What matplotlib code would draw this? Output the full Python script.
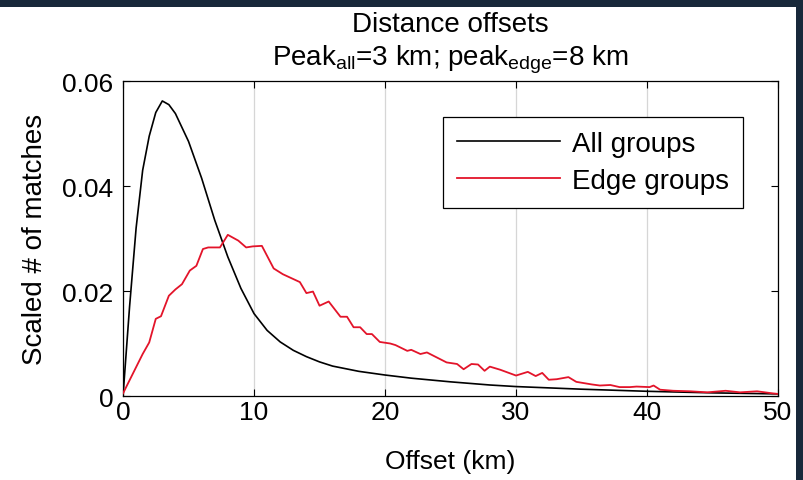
import matplotlib

matplotlib.use('Agg')
import matplotlib.pyplot as plt
from matplotlib.patches import Rectangle
from matplotlib.ticker import FuncFormatter

# Helvetica-like font
plt.rcParams['font.family'] = ['Liberation Sans', 'DejaVu Sans']
plt.rcParams['mathtext.fontset'] = 'custom'
plt.rcParams['mathtext.rm'] = 'Liberation Sans'
plt.rcParams['mathtext.it'] = 'Liberation Sans'

# All groups (smooth curve), km -> scaled matches
all_x = [0, 0.5, 1, 1.5, 2, 2.5, 3, 3.5, 4, 5, 6, 7, 8, 9, 10, 11, 12, 13, 14,
         15, 16, 18, 20, 22, 25, 28, 30, 35, 40, 45, 50]
all_y = [0.0, 0.017, 0.032, 0.043, 0.0495, 0.054, 0.0562, 0.0555, 0.0538,
         0.0485, 0.0415, 0.0335, 0.0265, 0.0205, 0.0157, 0.0125, 0.0103,
         0.0087, 0.0075, 0.0065, 0.0057, 0.0047, 0.0040, 0.0034, 0.0027,
         0.0021, 0.0018, 0.0013, 0.0009, 0.0006, 0.0004]

# Edge groups (jagged), read point by point
edge_x = [0, 0.5, 1.0, 1.5, 2.0, 2.5, 2.9, 3.5, 4.0, 4.5, 5.1, 5.6, 6.1, 6.5,
          7.4, 8.0, 8.8, 9.4, 9.9, 10.6, 11.5, 12.2, 13.5, 14.0, 14.5, 15.0,
          15.7, 16.6, 17.1, 17.6, 18.1, 18.6, 19.0, 19.6, 20.4, 20.8, 21.7,
          22.0, 22.7, 23.2, 24.7, 25.5, 26.0, 26.6, 27.1, 27.6, 28.0, 28.8,
          30.0, 30.9, 31.5, 32.0, 32.5, 33.1, 34.0, 34.6, 35.8, 36.4, 37.2,
          37.9, 38.7, 39.2, 40.2, 40.5, 41.0, 42.0, 43.3, 44.6, 46.0, 47.1,
          48.4, 49.6, 50]
edge_y = [0.0005, 0.003, 0.0055, 0.008, 0.0102, 0.0147, 0.0152, 0.0191,
          0.0203, 0.0213, 0.0239, 0.0248, 0.028, 0.0283, 0.0283, 0.0307,
          0.0296, 0.0283, 0.0285, 0.0286, 0.0243, 0.0232, 0.0217, 0.0196,
          0.0199, 0.0172, 0.018, 0.0151, 0.0151, 0.0131, 0.0131, 0.0118,
          0.0118, 0.0103, 0.0100, 0.0097, 0.0086, 0.0088, 0.008, 0.0083,
          0.0064, 0.0061, 0.0051, 0.0061, 0.006, 0.0048, 0.0056, 0.005,
          0.0039, 0.0046, 0.0038, 0.0044, 0.0031, 0.0032, 0.0036, 0.0027,
          0.0022, 0.002, 0.0021, 0.0017, 0.0017, 0.0018, 0.0017, 0.002,
          0.0012, 0.001, 0.0009, 0.0007, 0.001, 0.0007, 0.0009, 0.0005,
          0.0004]

x_ticks = [0, 10, 20, 30, 40, 50]
y_ticks = [0, 0.02, 0.04, 0.06]

fig = plt.figure(figsize=(8.04, 4.81), dpi=100)
fig.patch.set_facecolor('#18283a')
# white panel inside the dark frame (behind the axes)
fig.patches.append(Rectangle((0, 0), 796 / 804, 473 / 481, transform=fig.transFigure,
                             facecolor='white', edgecolor='none', zorder=-10))

ax = fig.add_axes([0.153, 0.1746, 0.8147, 0.6549])
ax.plot(all_x, all_y, color='black', lw=1.2, label='All groups', zorder=3)
ax.plot(edge_x, edge_y, color='#e3142a', lw=1.3, label='Edge groups', zorder=3)

ax.set_xlim(0, 50)
ax.set_ylim(0, 0.06)
ax.set_xticks(x_ticks)
ax.set_yticks(y_ticks)
ax.yaxis.set_major_formatter(FuncFormatter(lambda v, p: f'{v:g}'))
ax.tick_params(direction='in', top=True, right=True, length=5, width=0.8,
               labelsize=19)
ax.tick_params(axis='x', pad=3)
ax.tick_params(axis='y', pad=7)
ax.grid(True, axis='x', color='#d6d6d6', lw=0.9)
for s in ax.spines.values():
  s.set_linewidth(0.9)

ax.set_xlabel('Offset (km)', fontsize=19, labelpad=18)
ax.set_ylabel('Scaled # of matches', fontsize=20, labelpad=10)
ax.set_title('Distance offsets\n' + r'Peak$_{\rm all}$=3 km; peak$_{\rm edge}$=8 km',
             fontsize=20, linespacing=1.25, pad=12)

leg = ax.legend(loc='upper right', bbox_to_anchor=(0.9466, 0.8857),
                borderaxespad=0, fontsize=20, fancybox=False, framealpha=1,
                edgecolor='black', handlelength=3.7, handletextpad=0.45,
                labelspacing=0.4, borderpad=0.5)
leg.get_frame().set_linewidth(0.9)

fig.savefig('out.png', dpi=100, facecolor=fig.get_facecolor())
